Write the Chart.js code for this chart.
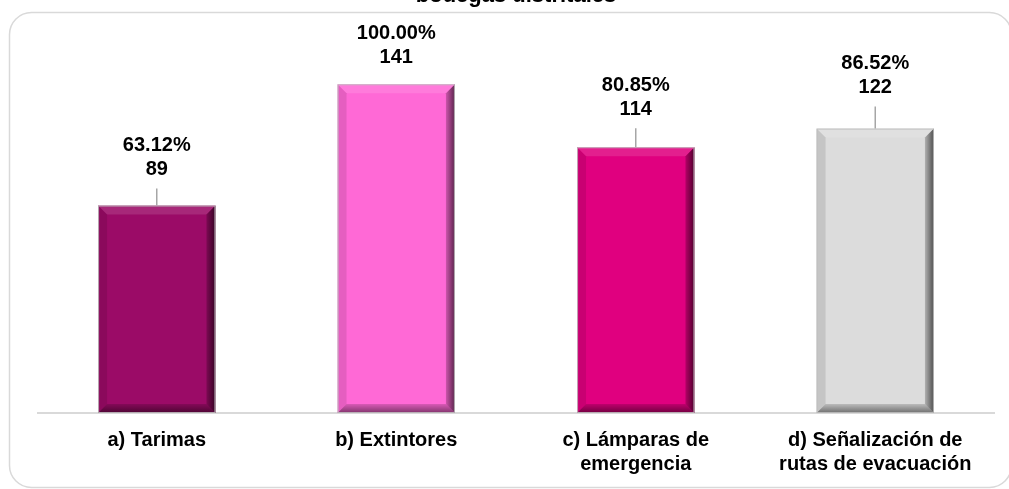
<!DOCTYPE html>
<html>
<head>
<meta charset="utf-8">
<script src="https://cdn.jsdelivr.net/npm/chart.js@4"></script>
<style>
  body { margin: 0; background: #fff; }
  canvas { display: block; }
</style>
</head>
<body>
<canvas id="bodegasChart" width="1009" height="489"></canvas>
<script>
const categories = [["a) Tarimas"], ["b) Extintores"], ["c) Lámparas de", "emergencia"], ["d) Señalización de", "rutas de evacuación"]];
const counts = [89, 141, 114, 122];
const percents = ["63.12%", "100.00%", "80.85%", "86.52%"];
const barColors = ["#9B0B67", "#FF69D6", "#E0007F", "#DCDCDC"];
const titleText = "bodegas distritales";

// how far the label block sits above each bar (px), like the moved labels in the original
const labelOffsets = [36, 27, 38, 41];
const FONT = "'Liberation Sans', Arial, sans-serif";

const framePlugin = {
  id: "frame",
  beforeDraw(chart) {
    const ctx = chart.ctx;
    ctx.save();
    ctx.strokeStyle = "#d9d9d9";
    ctx.lineWidth = 1.5;
    ctx.beginPath();
    ctx.roundRect(9.5, 12.5, 1002, 475, 22);
    ctx.stroke();
    // baseline
    const y = chart.scales.x.top;
    ctx.lineWidth = 2;
    ctx.beginPath();
    ctx.moveTo(chart.chartArea.left, y);
    ctx.lineTo(chart.chartArea.right, y);
    ctx.stroke();
    ctx.restore();
  },
  afterDraw(chart) {
    const ctx = chart.ctx;
    ctx.save();
    ctx.fillStyle = "#000";
    ctx.font = "bold 22px " + FONT;
    ctx.textAlign = "center";
    ctx.textBaseline = "alphabetic";
    ctx.fillText(titleText, 516, 2);
    ctx.restore();
  }
};

const bevelPlugin = {
  id: "bevel",
  afterDatasetsDraw(chart) {
    const ctx = chart.ctx;
    const meta = chart.getDatasetMeta(0);
    meta.data.forEach((bar) => {
      const l = bar.x - bar.width / 2, r = bar.x + bar.width / 2;
      const t = bar.y, b = bar.base, d = 9;
      ctx.save();
      const quad = (pts, fill) => {
        ctx.beginPath();
        ctx.moveTo(pts[0][0], pts[0][1]);
        for (let k = 1; k < pts.length; k++) ctx.lineTo(pts[k][0], pts[k][1]);
        ctx.closePath();
        ctx.fillStyle = fill;
        ctx.fill();
      };
      quad([[l, t], [r, t], [r - d, t + d], [l + d, t + d]], "rgba(255,255,255,0.12)");
      quad([[l, t], [l + d, t + d], [l + d, b - d], [l, b]], "rgba(0,0,0,0.1)");
      const gr = ctx.createLinearGradient(r - d, 0, r, 0);
      gr.addColorStop(0, "rgba(0,0,0,0.2)");
      gr.addColorStop(1, "rgba(0,0,0,0.65)");
      quad([[r, t], [r, b], [r - d, b - d], [r - d, t + d]], gr);
      const gb = ctx.createLinearGradient(0, b - d, 0, b);
      gb.addColorStop(0, "rgba(0,0,0,0.15)");
      gb.addColorStop(1, "rgba(0,0,0,0.5)");
      quad([[l, b], [r, b], [r - d, b - d], [l + d, b - d]], gb);
      ctx.strokeStyle = "rgba(190,190,190,0.9)";
      ctx.lineWidth = 1;
      ctx.strokeRect(l + 0.5, t + 0.5, bar.width - 1, b - t - 1);
      ctx.restore();
    });
  }
};

const labelPlugin = {
  id: "barLabels",
  afterDatasetsDraw(chart) {
    const ctx = chart.ctx;
    const meta = chart.getDatasetMeta(0);
    ctx.save();
    ctx.font = "bold 20px " + FONT;
    ctx.textAlign = "center";
    ctx.textBaseline = "middle";
    meta.data.forEach((bar, i) => {
      const y2 = bar.y - labelOffsets[i];
      ctx.fillStyle = "#000";
      ctx.fillText(percents[i], bar.x, y2 - 24);
      ctx.fillText(String(counts[i]), bar.x, y2);
      const start = y2 + 19;
      if (bar.y - start > 12) {
        ctx.strokeStyle = "#a6a6a6";
        ctx.lineWidth = 1.5;
        ctx.beginPath();
        ctx.moveTo(bar.x, start);
        ctx.lineTo(bar.x, bar.y);
        ctx.stroke();
      }
    });
    ctx.restore();
  }
};

new Chart(document.getElementById("bodegasChart"), {
  type: "bar",
  data: {
    labels: categories,
    datasets: [{
      data: counts,
      backgroundColor: barColors,
      borderWidth: 0,
      barPercentage: 0.49,
      categoryPercentage: 1
    }]
  },
  options: {
    responsive: false,
    animation: false,
    layout: { padding: { top: 40, left: 37, right: 14, bottom: 0 } },
    plugins: { legend: { display: false }, tooltip: { enabled: false } },
    scales: {
      x: {
        grid: { display: false, drawTicks: false },
        border: { display: false },
        ticks: { color: "#000", padding: 15, font: { family: FONT, size: 20, weight: "bold", lineHeight: 1.2 } },
        afterFit(scale) { scale.height = 76; }
      },
      y: { display: false, min: 0, max: 160 }
    }
  },
  plugins: [framePlugin, bevelPlugin, labelPlugin]
});
</script>
</body>
</html>
